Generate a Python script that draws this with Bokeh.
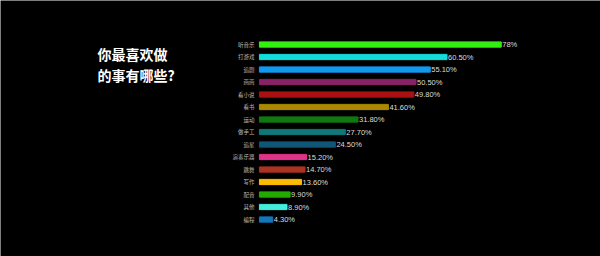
from bokeh.plotting import figure
from bokeh.models import ColumnDataSource, Range1d, Label
from bokeh.core.properties import value
from bokeh.embed import file_html
from bokeh.resources import INLINE

categories = ["听音乐", "打游戏", "追剧", "画画", "看小说", "看书", "运动", "做手工",
              "追星", "演奏乐器", "跳舞", "写作", "配音", "其他", "编程"]
values = [78, 60.5, 55.1, 50.5, 49.8, 41.6, 31.8, 27.7, 24.5, 15.2, 14.7, 13.6, 9.9, 8.9, 4.3]
value_labels = ["78%", "60.50%", "55.10%", "50.50%", "49.80%", "41.60%", "31.80%", "27.70%",
                "24.50%", "15.20%", "14.70%", "13.60%", "9.90%", "8.90%", "4.30%"]
colors = ["#33ee11", "#11dddd", "#1199ee", "#882266", "#aa1111", "#aa8800", "#117711",
          "#117777", "#115577", "#dd3388", "#aa3322", "#ffbb00", "#22aa00", "#44eedd", "#1177bb"]

rows = list(range(len(categories)))
src = ColumnDataSource(dict(y=rows, v=values, c=colors, cat=categories, lab=value_labels,
                            zero=[0] * len(rows)))

p = figure(width=600, height=256, output_backend="svg", toolbar_location=None,
           x_range=Range1d(-83.5, 110.0), y_range=Range1d(16.96, -3.52),
           background_fill_color="black", border_fill_color="black",
           min_border=0, outline_line_color=None)
p.axis.visible = False
p.grid.visible = False

p.hbar(y="y", left="zero", right="v", height=0.42, color="c", source=src)
p.text(x="v", y="y", text="lab", source=src, x_offset=1, text_align="left",
       text_baseline="middle", text_color="#dddddd", text_font_size="7.5px",
       text_font=value("Liberation Sans"))
p.text(x="zero", y="y", text="cat", source=src, x_offset=-5, text_align="right",
       text_baseline="middle", text_color="#bbbbbb", text_font_size="5.5px",
       text_font=value("Noto Sans CJK SC"))

for txt, yy in [("你最喜欢做", 203), ("的事有哪些?", 182)]:
    p.add_layout(Label(x=97, y=yy, x_units="screen", y_units="screen", text=txt,
                       text_color="white", text_font_size="14px", text_font_style="bold",
                       text_font="Noto Sans CJK SC", text_baseline="middle"))

open("out.html", "w").write(file_html(p, INLINE))
